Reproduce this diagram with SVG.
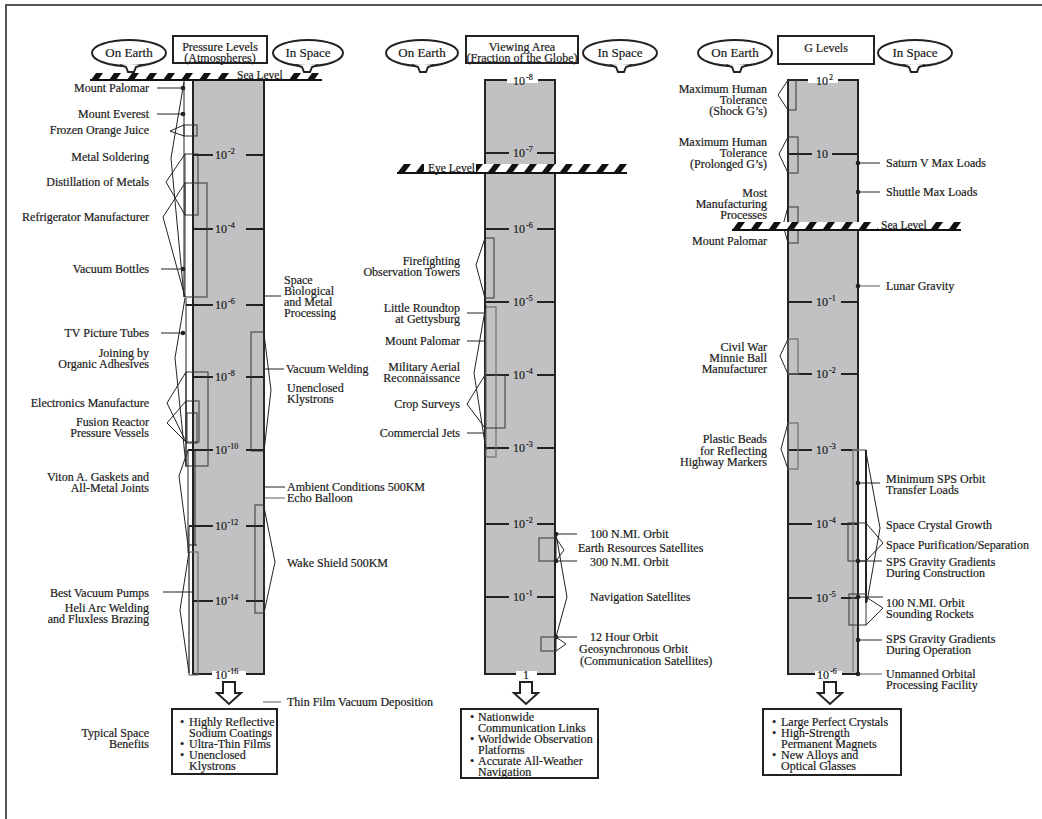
<svg xmlns="http://www.w3.org/2000/svg" width="1042" height="819" viewBox="0 0 1042 819">
<style>
text{font-family:"Liberation Serif","Times New Roman",serif;font-size:12px;fill:#1a1a1a;stroke:#1a1a1a;stroke-width:0.2px}
.e{text-anchor:end}
.m{text-anchor:middle}
.bt{font-size:13px}
.sup{font-size:8px}
.ln{stroke:#222;stroke-width:1;fill:none}
.lg{stroke:#808080;stroke-width:1.3;fill:none}
.bar{fill:#c1c1c3;stroke:#222;stroke-width:2}
.tk{stroke:#222;stroke-width:2}
.bx{fill:none;stroke:#333;stroke-width:1}
.bxg{fill:none;stroke:#6e6e6e;stroke-width:1.2}
.bub{fill:#fff;stroke:#222;stroke-width:2}
.frm{fill:none;stroke:#555;stroke-width:2}
.arw{fill:#fff;stroke:#222;stroke-width:2}
.wh{fill:#fff}
.dot{fill:#222}
.gnd{stroke:#111;stroke-width:2}
</style>
<defs>
<pattern id="hatchA" patternUnits="userSpaceOnUse" x="90" y="73" width="18" height="7"><polygon points="1,7 6,0 13,0 8,7" fill="#111"/></pattern>
<pattern id="hatchB" patternUnits="userSpaceOnUse" x="397" y="164" width="18" height="8"><polygon points="1,8 7,0 14,0 8,8" fill="#111"/></pattern>
<pattern id="hatchC" patternUnits="userSpaceOnUse" x="732" y="222" width="18" height="7"><polygon points="1,7 6,0 13,0 8,7" fill="#111"/></pattern>
</defs>

<!-- frame -->
<path class="frm" d="M6,819 V5 H1042"/>

<!-- ============ PRESSURE COLUMN ============ -->
<g id="pressure-header">
  <ellipse class="bub" cx="129" cy="53" rx="37" ry="13"/>
  <path class="bub" d="M120,65 L126,67 L128,72 L134,72 L136,67 L142,65"/>
  <text class="bt m" x="129" y="57">On Earth</text>
  <rect class="bub" x="173" y="36" width="94" height="27"/>
  <text class="m" x="220" y="51">Pressure Levels</text>
  <text class="m" x="220" y="62">(Atmospheres)</text>
  <ellipse class="bub" cx="308" cy="53" rx="35" ry="13"/>
  <path class="bub" d="M296,65 L302,67 L304,72 L310,72 L312,67 L318,65"/>
  <text class="bt m" x="308" y="57">In Space</text>
</g>
<g id="pressure-bar">
  <rect class="bar" x="193" y="80" width="71" height="594"/>
  <line class="tk" x1="193" y1="155" x2="213" y2="155"/><line class="tk" x1="246" y1="155" x2="264" y2="155"/>
  <text x="215" y="159">10<tspan class="sup" dx="1" dy="-5">-2</tspan></text>
  <line class="tk" x1="193" y1="229" x2="213" y2="229"/><line class="tk" x1="246" y1="229" x2="264" y2="229"/>
  <text x="215" y="233">10<tspan class="sup" dx="1" dy="-5">-4</tspan></text>
  <line class="tk" x1="186" y1="305" x2="213" y2="305"/><line class="tk" x1="246" y1="305" x2="264" y2="305"/>
  <text x="215" y="309">10<tspan class="sup" dx="1" dy="-5">-6</tspan></text>
  <line class="tk" x1="193" y1="377" x2="213" y2="377"/><line class="tk" x1="246" y1="377" x2="264" y2="377"/>
  <text x="215" y="381">10<tspan class="sup" dx="1" dy="-5">-8</tspan></text>
  <line class="tk" x1="188" y1="450" x2="213" y2="450"/><line class="tk" x1="246" y1="450" x2="264" y2="450"/>
  <text x="215" y="454">10<tspan class="sup" dx="0.5" dy="-5">-10</tspan></text>
  <line class="tk" x1="189" y1="526" x2="213" y2="526"/><line class="tk" x1="246" y1="526" x2="264" y2="526"/>
  <text x="215" y="530">10<tspan class="sup" dx="0.5" dy="-5">-12</tspan></text>
  <line class="tk" x1="193" y1="601" x2="213" y2="601"/><line class="tk" x1="246" y1="601" x2="264" y2="601"/>
  <text x="215" y="605">10<tspan class="sup" dx="0.5" dy="-5">-14</tspan></text>
  <rect class="wh" x="212" y="671" width="34" height="6"/>
  <text x="215" y="679">10<tspan class="sup" dx="0.5" dy="-5">-16</tspan></text>
</g>
<g id="sea-level-1">
  <rect class="wh" x="90" y="73" width="232" height="7"/>
  <rect fill="url(#hatchA)" x="90" y="73" width="232" height="7"/>
  <rect class="wh" x="234" y="70" width="52" height="10"/>
  <line class="gnd" x1="90" y1="80" x2="322" y2="80"/>
  <text x="237" y="78.5" style="font-size:11.5px">Sea Level</text>
</g>
<g id="pressure-earth-labels">
  <g id="p-mount-palomar"><text class="e" x="149" y="92">Mount Palomar</text></g>
  <g id="p-mount-everest"><text class="e" x="149" y="118">Mount Everest</text></g>
  <g id="p-frozen-oj"><text class="e" x="149" y="134">Frozen Orange Juice</text></g>
  <g id="p-metal-soldering"><text class="e" x="149" y="161">Metal Soldering</text></g>
  <g id="p-distillation"><text class="e" x="149" y="186">Distillation of Metals</text></g>
  <g id="p-refrigerator"><text class="e" x="149" y="221">Refrigerator Manufacturer</text></g>
  <g id="p-vacuum-bottles"><text class="e" x="149" y="273">Vacuum Bottles</text></g>
  <g id="p-tv-tubes"><text class="e" x="149" y="337">TV Picture Tubes</text></g>
  <g id="p-joining"><text class="e" x="149" y="357">Joining by</text><text class="e" x="149" y="368">Organic Adhesives</text></g>
  <g id="p-electronics"><text class="e" x="149" y="407">Electronics Manufacture</text></g>
  <g id="p-fusion"><text class="e" x="149" y="426">Fusion Reactor</text><text class="e" x="149" y="437">Pressure Vessels</text></g>
  <g id="p-viton"><text class="e" x="149" y="481">Viton A. Gaskets and</text><text class="e" x="149" y="492">All-Metal Joints</text></g>
  <g id="p-best-pumps"><text class="e" x="149" y="597">Best Vacuum Pumps</text></g>
  <g id="p-heli-arc"><text class="e" x="149" y="612">Heli Arc Welding</text><text class="e" x="149" y="623">and Fluxless Brazing</text></g>
  <g id="p-benefits-label"><text class="e" x="149" y="737">Typical Space</text><text class="e" x="149" y="748">Benefits</text></g>
</g>
<g id="pressure-space-labels">
  <g id="p-space-bio"><text x="284" y="284">Space</text><text x="284" y="295">Biological</text><text x="284" y="306">and Metal</text><text x="284" y="317">Processing</text></g>
  <g id="p-vacuum-welding"><text x="286" y="373">Vacuum Welding</text></g>
  <g id="p-klystrons"><text x="287" y="392">Unenclosed</text><text x="287" y="403">Klystrons</text></g>
  <g id="p-ambient"><text x="287" y="491">Ambient Conditions 500KM</text></g>
  <g id="p-echo"><text x="287" y="502">Echo Balloon</text></g>
  <g id="p-wake"><text x="287" y="567">Wake Shield 500KM</text></g>
  <g id="p-thin-film"><text x="287" y="706">Thin Film Vacuum Deposition</text></g>
</g>
<g id="pressure-benefits">
  <path class="arw" d="M223,682 H235 V693 H241 L229,704 L217,693 H223 Z"/>
  <rect class="bub" x="172" y="709" width="105" height="65"/>
  <text x="180" y="726">•</text><text x="189" y="726">Highly Reflective</text>
  <text x="189" y="737">Sodium Coatings</text>
  <text x="180" y="748">•</text><text x="189" y="748">Ultra-Thin Films</text>
  <text x="180" y="759">•</text><text x="189" y="759">Unenclosed</text>
  <text x="189" y="770">Klystrons</text>
</g>

<!-- ============ VIEWING AREA COLUMN ============ -->
<g id="viewing-header">
  <ellipse class="bub" cx="422" cy="53" rx="36" ry="13"/>
  <path class="bub" d="M412,65 L418,67 L420,72 L426,72 L428,67 L434,65"/>
  <text class="bt m" x="422" y="57">On Earth</text>
  <rect class="bub" x="466" y="36" width="112" height="27"/>
  <text class="m" x="522" y="51">Viewing Area</text>
  <text class="m" x="522" y="62">(Fraction of the Globe)</text>
  <ellipse class="bub" cx="620" cy="53" rx="37" ry="13"/>
  <path class="bub" d="M610,65 L616,67 L618,72 L624,72 L626,67 L632,65"/>
  <text class="bt m" x="620" y="57">In Space</text>
</g>
<g id="viewing-bar">
  <rect class="bar" x="485" y="80" width="70" height="594"/>
  <rect class="wh" x="507" y="77" width="31" height="6"/>
  <text x="513" y="85">10<tspan class="sup" dx="1" dy="-5">-8</tspan></text>
  <line class="tk" x1="485" y1="153" x2="509" y2="153"/><line class="tk" x1="537" y1="153" x2="555" y2="153"/>
  <text x="513" y="157">10<tspan class="sup" dx="1" dy="-5">-7</tspan></text>
  <line class="tk" x1="485" y1="229" x2="509" y2="229"/><line class="tk" x1="537" y1="229" x2="555" y2="229"/>
  <text x="513" y="233">10<tspan class="sup" dx="1" dy="-5">-6</tspan></text>
  <line class="tk" x1="485" y1="302" x2="509" y2="302"/><line class="tk" x1="537" y1="302" x2="555" y2="302"/>
  <text x="513" y="306">10<tspan class="sup" dx="1" dy="-5">-5</tspan></text>
  <line class="tk" x1="485" y1="375" x2="509" y2="375"/><line class="tk" x1="537" y1="375" x2="555" y2="375"/>
  <text x="513" y="379">10<tspan class="sup" dx="1" dy="-5">-4</tspan></text>
  <line class="tk" x1="485" y1="448" x2="509" y2="448"/><line class="tk" x1="537" y1="448" x2="555" y2="448"/>
  <text x="513" y="452">10<tspan class="sup" dx="1" dy="-5">-3</tspan></text>
  <line class="tk" x1="485" y1="524" x2="509" y2="524"/><line class="tk" x1="537" y1="524" x2="555" y2="524"/>
  <text x="513" y="528">10<tspan class="sup" dx="1" dy="-5">-2</tspan></text>
  <line class="tk" x1="485" y1="597" x2="509" y2="597"/><line class="tk" x1="537" y1="597" x2="555" y2="597"/>
  <text x="513" y="601">10<tspan class="sup" dx="1" dy="-5">-1</tspan></text>
  <rect class="wh" x="516" y="671" width="21" height="6"/>
  <text class="m" x="526" y="679">1</text>
</g>
<g id="eye-level">
  <rect class="wh" x="397" y="164" width="230" height="8"/>
  <rect fill="url(#hatchB)" x="397" y="164" width="230" height="8"/>
  <rect class="wh" x="424" y="161" width="52" height="11"/>
  <line class="gnd" x1="397" y1="173" x2="627" y2="173"/>
  <text x="428" y="171.5" style="font-size:11.5px">Eye Level</text>
</g>
<g id="viewing-earth-labels">
  <g id="v-firefighting"><text class="e" x="460" y="265">Firefighting</text><text class="e" x="460" y="276">Observation Towers</text></g>
  <g id="v-roundtop"><text class="e" x="460" y="312">Little Roundtop</text><text class="e" x="460" y="323">at Gettysburg</text></g>
  <g id="v-palomar"><text class="e" x="460" y="345">Mount Palomar</text></g>
  <g id="v-military"><text class="e" x="460" y="371">Military Aerial</text><text class="e" x="460" y="382">Reconnaissance</text></g>
  <g id="v-crop"><text class="e" x="460" y="408">Crop Surveys</text></g>
  <g id="v-jets"><text class="e" x="460" y="437">Commercial Jets</text></g>
</g>
<g id="viewing-space-labels">
  <g id="v-100nmi"><text x="590" y="538">100 N.MI. Orbit</text></g>
  <g id="v-earth-res"><text x="578" y="552">Earth Resources Satellites</text></g>
  <g id="v-300nmi"><text x="590" y="566">300 N.MI. Orbit</text></g>
  <g id="v-nav"><text x="590" y="601">Navigation Satellites</text></g>
  <g id="v-12hr"><text x="590" y="641">12 Hour Orbit</text></g>
  <g id="v-geo"><text x="579" y="653">Geosynchronous Orbit</text><text x="580" y="665">(Communication Satellites)</text></g>
</g>
<g id="viewing-benefits">
  <path class="arw" d="M520,682 H532 V693 H538 L526,704 L514,693 H520 Z"/>
  <rect class="bub" x="461" y="709" width="137" height="69"/>
  <text x="470" y="721">•</text><text x="478" y="721">Nationwide</text>
  <text x="478" y="732">Communication Links</text>
  <text x="470" y="743">•</text><text x="478" y="743">Worldwide Observation</text>
  <text x="478" y="754">Platforms</text>
  <text x="470" y="765">•</text><text x="478" y="765">Accurate All-Weather</text>
  <text x="478" y="776">Navigation</text>
</g>

<!-- ============ G LEVELS COLUMN ============ -->
<g id="g-header">
  <ellipse class="bub" cx="735" cy="53" rx="37" ry="13"/>
  <path class="bub" d="M726,65 L732,67 L734,72 L740,72 L742,67 L748,65"/>
  <text class="bt m" x="735" y="57">On Earth</text>
  <rect class="bub" x="778" y="36" width="96" height="28"/>
  <text class="m" x="826" y="52">G Levels</text>
  <ellipse class="bub" cx="915" cy="53" rx="37" ry="13"/>
  <path class="bub" d="M903,65 L909,67 L911,72 L917,72 L919,67 L925,65"/>
  <text class="bt m" x="915" y="57">In Space</text>
</g>
<g id="g-bar">
  <rect class="bar" x="788" y="80" width="70" height="594"/>
  <rect class="wh" x="808" y="77" width="30" height="6"/>
  <text x="816" y="85">10<tspan class="sup" dx="1" dy="-5">2</tspan></text>
  <line class="tk" x1="788" y1="154" x2="812" y2="154"/><line class="tk" x1="832" y1="154" x2="858" y2="154"/>
  <text x="816" y="158">10</text>
  <line class="tk" x1="788" y1="302" x2="812" y2="302"/><line class="tk" x1="841" y1="302" x2="858" y2="302"/>
  <text x="816" y="306">10<tspan class="sup" dx="1" dy="-5">-1</tspan></text>
  <line class="tk" x1="788" y1="374" x2="812" y2="374"/><line class="tk" x1="841" y1="374" x2="858" y2="374"/>
  <text x="816" y="378">10<tspan class="sup" dx="1" dy="-5">-2</tspan></text>
  <line class="tk" x1="788" y1="450" x2="812" y2="450"/><line class="tk" x1="841" y1="450" x2="858" y2="450"/>
  <text x="816" y="454">10<tspan class="sup" dx="1" dy="-5">-3</tspan></text>
  <line class="tk" x1="788" y1="524" x2="812" y2="524"/><line class="tk" x1="841" y1="524" x2="858" y2="524"/>
  <text x="816" y="528">10<tspan class="sup" dx="1" dy="-5">-4</tspan></text>
  <line class="tk" x1="788" y1="598" x2="812" y2="598"/><line class="tk" x1="841" y1="598" x2="858" y2="598"/>
  <text x="816" y="602">10<tspan class="sup" dx="1" dy="-5">-5</tspan></text>
  <rect class="wh" x="815" y="671" width="27" height="6"/>
  <text x="817" y="679">10<tspan class="sup" dx="1" dy="-5">-6</tspan></text>
</g>
<g id="g-earth-labels">
  <g id="g-shock"><text class="e" x="767" y="93">Maximum Human</text><text class="e" x="767" y="104">Tolerance</text><text class="e" x="767" y="115">(Shock G’s)</text></g>
  <g id="g-prolonged"><text class="e" x="767" y="146">Maximum Human</text><text class="e" x="767" y="157">Tolerance</text><text class="e" x="767" y="168">(Prolonged G’s)</text></g>
  <g id="g-manufacturing"><text class="e" x="767" y="197">Most</text><text class="e" x="767" y="208">Manufacturing</text><text class="e" x="767" y="219">Processes</text></g>
  <g id="g-palomar"><text class="e" x="767" y="245">Mount Palomar</text></g>
  <g id="g-minnie"><text class="e" x="767" y="351">Civil War</text><text class="e" x="767" y="362">Minnie Ball</text><text class="e" x="767" y="373">Manufacturer</text></g>
  <g id="g-beads"><text class="e" x="767" y="443">Plastic Beads</text><text class="e" x="767" y="455">for Reflecting</text><text class="e" x="767" y="466">Highway Markers</text></g>
</g>
<g id="g-space-labels">
  <g id="g-saturn"><text x="886" y="167">Saturn V Max Loads</text></g>
  <g id="g-shuttle"><text x="886" y="196">Shuttle Max Loads</text></g>
  <g id="g-lunar"><text x="886" y="290">Lunar Gravity</text></g>
  <g id="g-min-sps"><text x="886" y="483">Minimum SPS Orbit</text><text x="886" y="494">Transfer Loads</text></g>
  <g id="g-crystal"><text x="886" y="529">Space Crystal Growth</text></g>
  <g id="g-purification"><text x="886" y="549">Space Purification/Separation</text></g>
  <g id="g-sps-constr"><text x="886" y="566">SPS Gravity Gradients</text><text x="886" y="577">During Construction</text></g>
  <g id="g-sounding"><text x="886" y="607">100 N.MI. Orbit</text><text x="886" y="618">Sounding Rockets</text></g>
  <g id="g-sps-oper"><text x="886" y="643">SPS Gravity Gradients</text><text x="886" y="654">During Operation</text></g>
  <g id="g-unmanned"><text x="886" y="678">Unmanned Orbital</text><text x="886" y="689">Processing Facility</text></g>
</g>
<g id="g-benefits">
  <path class="arw" d="M824,682 H836 V693 H842 L830,704 L818,693 H824 Z"/>
  <rect class="bub" x="763" y="709" width="138" height="66"/>
  <text x="772" y="726">•</text><text x="781" y="726">Large Perfect Crystals</text>
  <text x="772" y="737">•</text><text x="781" y="737">High-Strength</text>
  <text x="781" y="748">Permanent Magnets</text>
  <text x="772" y="759">•</text><text x="781" y="759">New Alloys and</text>
  <text x="781" y="770">Optical Glasses</text>
</g>

<!-- ============ CONNECTORS ============ -->
<g id="connectors">
  <!-- pressure, on earth -->
  <line class="ln" x1="157" y1="88" x2="183" y2="88"/><circle class="dot" cx="183" cy="88" r="2.3"/>
  <line class="ln" x1="157" y1="114" x2="183" y2="114"/><circle class="dot" cx="183" cy="114" r="2.3"/>
  <line class="ln" x1="184" y1="80" x2="184" y2="297"/>
  <polyline class="ln" points="184,82 171,158 184,297"/>
  <rect class="bx" x="184" y="125" width="13" height="11"/>
  <polyline class="ln" points="184,125 170,131 184,136"/>
  <rect class="bx" x="185" y="154" width="13" height="61"/>
  <polyline class="ln" points="185,154 166,182 185,215"/>
  <rect class="bx" x="185" y="183" width="22" height="114"/>
  <polyline class="ln" points="185,183 163,217 185,297"/>
  <line class="ln" x1="161" y1="269" x2="183" y2="269"/><circle class="dot" cx="183" cy="269" r="2.3"/>
  <line class="ln" x1="186" y1="298" x2="186" y2="467"/>
  <line class="ln" x1="161" y1="333" x2="183" y2="333"/><circle class="dot" cx="183" cy="333" r="2.3"/>
  <polyline class="ln" points="185,298 175,358 186,466"/>
  <rect class="bx" x="186" y="372" width="22" height="94"/>
  <polyline class="ln" points="186,372 167,403 186,442"/>
  <rect class="bx" x="186" y="401" width="13" height="41"/>
  <rect class="bx" x="187" y="413" width="10" height="30"/>
  <polyline class="ln" points="186,401 167,423 187,443"/>
  <line class="ln" x1="188" y1="450" x2="188" y2="553"/>
  <polyline class="ln" points="188,450 179,476 189,553"/>
  <line class="ln" x1="195" y1="450" x2="195" y2="545"/>
  <line class="ln" x1="189" y1="545" x2="197" y2="545"/>
  <line class="ln" x1="189" y1="527" x2="189" y2="673"/>
  <rect class="bxg" x="189" y="552" width="9" height="123"/>
  <polyline class="ln" points="189,552 180,610 189,673"/>
  <line class="ln" x1="163" y1="592" x2="193" y2="592"/>
  <!-- pressure, in space -->
  <line class="ln" x1="265" y1="296" x2="281" y2="296"/>
  <rect class="bx" x="251" y="332" width="13" height="119"/>
  <line class="ln" x1="265" y1="369" x2="284" y2="369"/>
  <polyline class="ln" points="264,334 271,390 264,451"/>
  <line class="ln" x1="265" y1="487" x2="285" y2="487"/>
  <line class="lg" x1="265" y1="498" x2="285" y2="498"/>
  <rect class="bx" x="255" y="505" width="9" height="108"/>
  <polyline class="ln" points="264,507 275,562 264,613"/>
  <line class="lg" x1="263" y1="702" x2="281" y2="702"/>

  <!-- viewing, on earth -->
  <rect class="bx" x="485" y="238" width="9" height="60"/>
  <polyline class="ln" points="485,238 476,265 485,298"/>
  <rect class="bxg" x="486" y="307" width="10" height="150"/>
  <polyline class="ln" points="486,305 474,373 486,450"/>
  <line class="ln" x1="467" y1="313" x2="485" y2="313"/>
  <line class="ln" x1="467" y1="341" x2="485" y2="341"/>
  <rect class="bx" x="485" y="375" width="20" height="53"/>
  <polyline class="ln" points="485,375 467,404 485,428"/>
  <line class="ln" x1="467" y1="433" x2="485" y2="433"/>
  <!-- viewing, in space -->
  <line class="ln" x1="556" y1="534" x2="577" y2="534"/><circle class="dot" cx="556" cy="534" r="2.3"/>
  <rect class="bx" x="539" y="538" width="17" height="23"/>
  <polyline class="ln" points="556,538 564,550 556,561"/>
  <line class="ln" x1="556" y1="561" x2="577" y2="561"/><circle class="dot" cx="556" cy="561" r="2.3"/>
  <polyline class="ln" points="556,534 567,597 556,637"/>
  <line class="ln" x1="556" y1="637" x2="577" y2="637"/><circle class="dot" cx="556" cy="637" r="2.3"/>
  <rect class="bx" x="541" y="637" width="15" height="14"/>
  <polyline class="ln" points="556,637 566,644 556,651"/>

  <!-- g levels, on earth -->
  <rect class="bx" x="788" y="80" width="8" height="30"/>
  <polyline class="ln" points="788,80 778,95 788,110"/>
  <rect class="bx" x="788" y="137" width="10" height="36"/>
  <polyline class="ln" points="788,137 779,154 788,173"/>
  <rect class="bx" x="788" y="207" width="10" height="36"/>
  <polyline class="ln" points="788,207 783,225 788,243"/>
  <rect class="bxg" x="788" y="339" width="10" height="35"/>
  <polyline class="ln" points="788,339 780,356 788,374"/>
  <rect class="bxg" x="788" y="423" width="10" height="46"/>
  <polyline class="ln" points="788,423 781,449 788,469"/>
  <!-- g levels, in space -->
  <line class="ln" x1="858" y1="163" x2="880" y2="163"/><circle class="dot" cx="858" cy="163" r="2.3"/>
  <line class="ln" x1="858" y1="192" x2="880" y2="192"/><circle class="dot" cx="858" cy="192" r="2.3"/>
  <line class="lg" x1="858" y1="286" x2="880" y2="286"/><circle class="dot" cx="858" cy="286" r="2.3"/>
  <polyline class="lg" points="866,450 853,450 853,672"/>
  <line class="tk" x1="866" y1="450" x2="866" y2="603"/>
  <line class="ln" x1="858" y1="483" x2="880" y2="483"/><circle class="dot" cx="858" cy="483" r="2.3"/>
  <polyline class="ln" points="866,452 880,528 867,602"/>
  <rect class="bx" x="848" y="523" width="18" height="38"/>
  <polyline class="ln" points="866,523 883,543 866,561"/>
  <line class="ln" x1="858" y1="561" x2="882" y2="561"/><circle class="dot" cx="858" cy="561" r="2.3"/>
  <rect class="bx" x="849" y="594" width="17" height="31"/>
  <polyline class="ln" points="866,597 883,608 866,625"/>
  <line class="ln" x1="858" y1="597" x2="883" y2="597"/><circle class="dot" cx="858" cy="597" r="2.3"/>
  <line class="ln" x1="858" y1="640" x2="882" y2="640"/><circle class="dot" cx="858" cy="640" r="2.3"/>
  <line class="lg" x1="858" y1="674" x2="882" y2="674"/><circle class="dot" cx="858" cy="674" r="2.3"/>
</g>

<g id="sea-level-g">
  <rect class="wh" x="732" y="222" width="229" height="7"/>
  <rect fill="url(#hatchC)" x="732" y="222" width="229" height="7"/>
  <rect class="wh" x="878" y="219" width="48" height="10"/>
  <line class="gnd" x1="732" y1="230" x2="961" y2="230"/>
  <text x="881" y="228.5" style="font-size:11.5px">Sea Level</text>
</g>
</svg>
